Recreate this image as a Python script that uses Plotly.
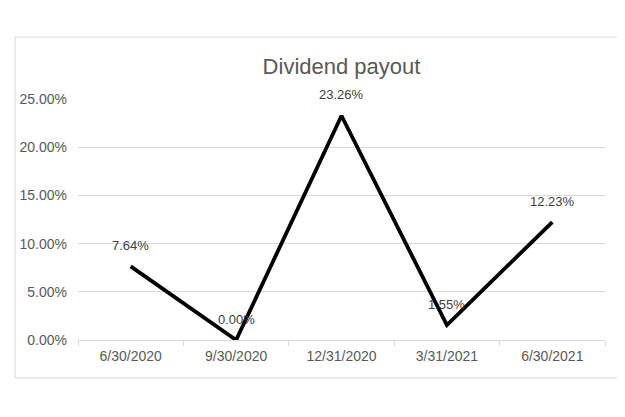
import plotly.graph_objects as go

# Dividend payout by quarter end
dates = ['6/30/2020', '9/30/2020', '12/31/2020', '3/31/2021', '6/30/2021']
payout = [0.0764, 0.0000, 0.2326, 0.0155, 0.1223]

y_ticks = [0, 0.05, 0.10, 0.15, 0.20, 0.25]

fig = go.Figure()

fig.add_trace(go.Scatter(
    x=dates,
    y=payout,
    mode='lines',
    line=dict(color='black', width=3.8),
    cliponaxis=False,
    hoverinfo='skip'
))

# data labels sit above each point, like Excel
for d, v in zip(dates, payout):
    fig.add_annotation(
        x=d, y=v, text=f"{v:.2%}",
        showarrow=False, yshift=21,
        font=dict(size=13, color='#404040', family='Liberation Sans')
    )

# page has an 8px body margin, so the margins are shifted to compensate
fig.update_layout(
    width=625,
    height=417,
    margin=dict(l=65, r=28, t=91, b=85),
    paper_bgcolor='white',
    plot_bgcolor='white',
    showlegend=False,
    font=dict(family='Liberation Sans', size=14, color='#595959'),
    title=dict(
        text='Dividend payout',
        x=0.5, xref='paper', xanchor='center',
        y=1 - 58 / 417, yref='container', yanchor='middle',
        font=dict(size=22, color='#595959')
    ),
    xaxis=dict(
        type='category',
        range=[-0.5, 4.5],
        showline=True,
        linecolor='#d9d9d9',
        linewidth=1,
        ticks='outside',
        tickson='boundaries',
        ticklen=5,
        tickcolor='#d9d9d9',
        showgrid=False,
        ticklabelstandoff=3,
        tickfont=dict(size=14, color='#595959')
    ),
    yaxis=dict(
        range=[0, 0.25],
        tickvals=y_ticks,
        tickformat='.2%',
        showgrid=True,
        gridcolor='#d9d9d9',
        gridwidth=1,
        zeroline=False,
        showline=False,
        ticks='',
        ticklabelstandoff=10,
        tickfont=dict(size=14, color='#595959')
    ),
    shapes=[dict(
        type='rect', xref='paper', yref='paper',
        x0=-63.5 / 532, x1=(612 - 65) / 532,
        y0=(332 - 370) / 241, y1=(332 - 29) / 241,
        line=dict(color='#d9d9d9', width=1),
        fillcolor='rgba(0,0,0,0)', layer='below'
    )]
)

fig.write_html('out.html')
